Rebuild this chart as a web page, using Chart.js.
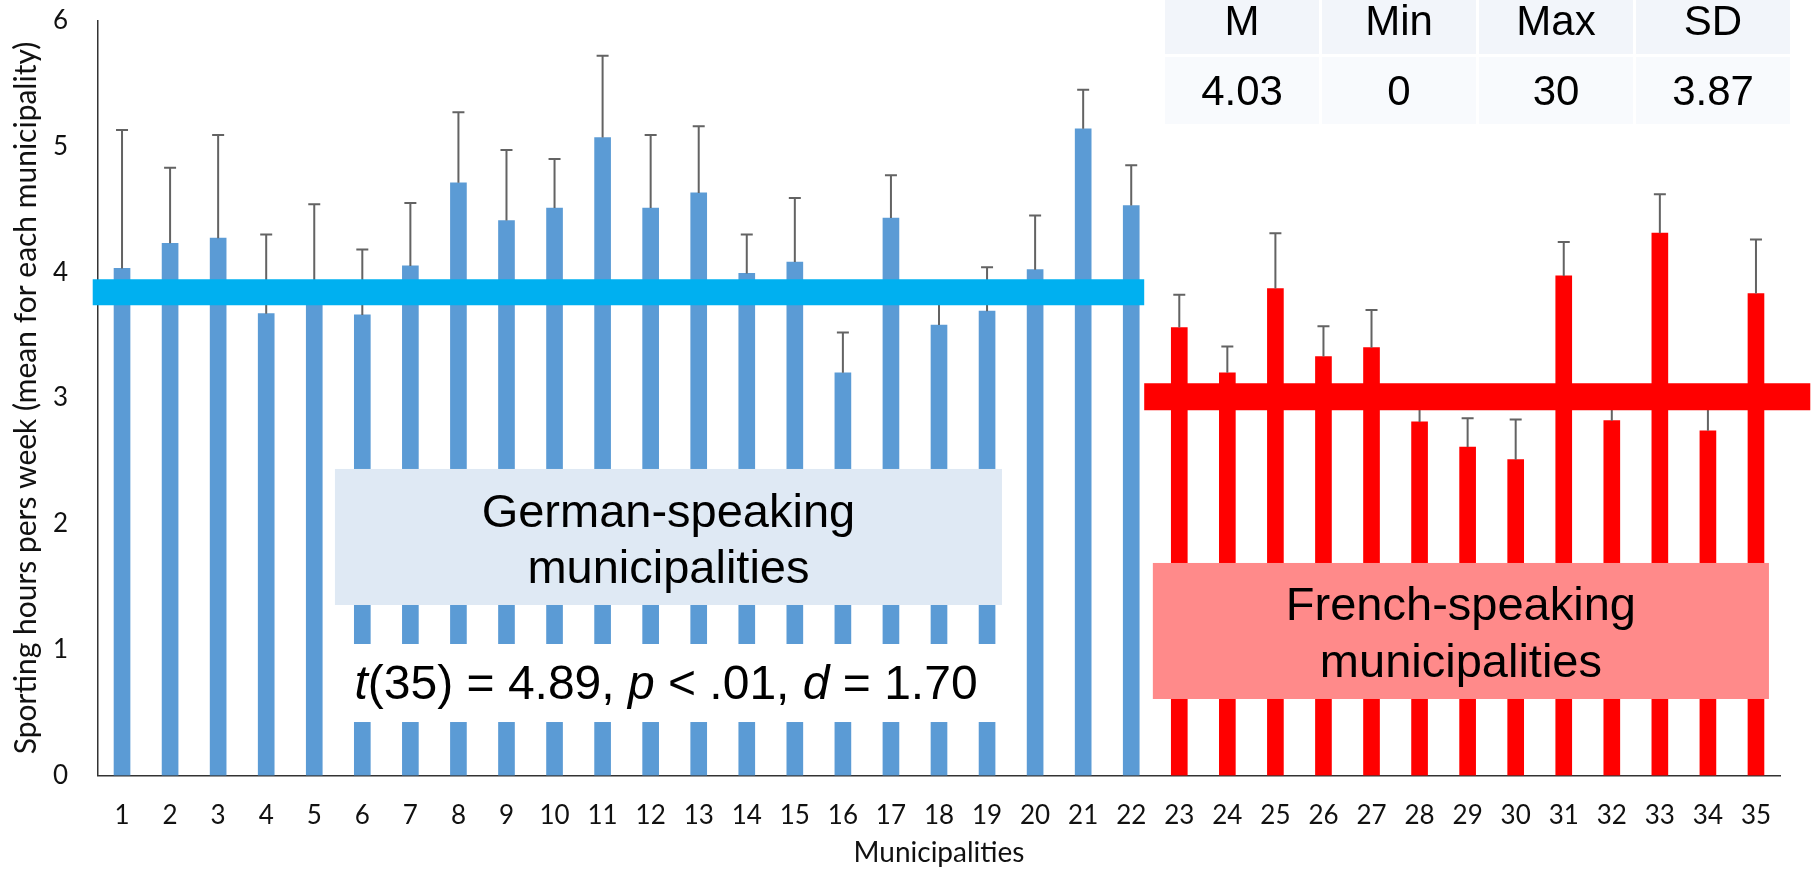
<!DOCTYPE html>
<html>
<head>
<meta charset="utf-8">
<script src="https://cdn.jsdelivr.net/npm/chart.js@4.4.1/dist/chart.umd.min.js"></script>
<style>
  html, body { margin: 0; padding: 0; background: #ffffff; }
  #wrap { width: 1820px; height: 878px; position: relative; }
</style>
</head>
<body>
<div id="wrap"><canvas id="chart" width="1820" height="878"></canvas></div>
<script>
// Municipality labels along the x axis
const municipalities = ['1','2','3','4','5','6','7','8','9','10','11','12','13','14','15','16','17','18',
  '19','20','21','22','23','24','25','26','27','28','29','30','31','32','33','34','35'];

// Mean weekly sporting hours per municipality and the upper error bar length
const germanMeans = [4.03, 4.23, 4.27, 3.67, 3.90, 3.66, 4.05, 4.71, 4.41, 4.51, 5.07,
  4.51, 4.63, 3.99, 4.08, 3.20, 4.43, 3.58, 3.69, 4.02, 5.14, 4.53];
const germanErrors = [1.10, 0.60, 0.82, 0.63, 0.64, 0.52, 0.50, 0.56, 0.56, 0.39, 0.65,
  0.58, 0.53, 0.31, 0.51, 0.32, 0.34, 0.27, 0.35, 0.43, 0.31, 0.32];
const frenchMeans = [3.56, 3.20, 3.87, 3.33, 3.40, 2.81, 2.61, 2.51, 3.97, 2.82, 4.31, 2.74, 3.83];
const frenchErrors = [0.26, 0.21, 0.44, 0.24, 0.30, 0.20, 0.23, 0.32, 0.27, 0.20, 0.31, 0.20, 0.43];

// Group levels drawn as thick horizontal bands
const germanGroupLevel = 3.84;
const frenchGroupLevel = 3.01;

// Summary table
const statHeaders = ['M', 'Min', 'Max', 'SD'];
const statValues = ['4.03', '0', '30', '3.87'];

// Value axis ticks
const yTicks = [0, 1, 2, 3, 4, 5, 6];

const germanPoints = germanMeans.map((v, i) => ({ x: i + 1, y: v }));
const frenchPoints = frenchMeans.map((v, i) => ({ x: germanMeans.length + i + 1, y: v }));
const firstFrench = germanMeans.length + 1;
const lastFrench = germanMeans.length + frenchMeans.length;

const LABEL_FONT = 'Lato, "Open Sans", sans-serif';
const TEXT_FONT = '"Liberation Sans", Arial, sans-serif';

// Upward error bars, painted right after each bar series
const errorBars = {
  id: 'errorBars',
  afterDatasetDraw(chart, args) {
    const ds = chart.data.datasets[args.index];
    if (!ds.errors) return;
    const yScale = chart.scales.y;
    const ctx = chart.ctx;
    ctx.save();
    ctx.strokeStyle = '#636363';
    ctx.lineWidth = 2;
    args.meta.data.forEach((bar, i) => {
      const top = yScale.getPixelForValue(ds.data[i].y + ds.errors[i]);
      ctx.beginPath();
      ctx.moveTo(bar.x, bar.y);
      ctx.lineTo(bar.x, top);
      ctx.moveTo(bar.x - 6, top);
      ctx.lineTo(bar.x + 6, top);
      ctx.stroke();
    });
    ctx.restore();
  }
};

// Group captions, test statistic and summary table
const captions = {
  id: 'captions',
  afterDatasetsDraw(chart) {
    const ctx = chart.ctx;
    const xs = chart.scales.x, ys = chart.scales.y;
    const X = v => xs.getPixelForValue(v);
    const Y = v => ys.getPixelForValue(v);
    ctx.save();

    // German caption box
    const gL = X(5.43), gR = X(19.31);
    ctx.fillStyle = '#DFE9F4';
    ctx.fillRect(gL, Y(2.436), gR - gL, Y(1.355) - Y(2.436));
    // White band for the test statistic
    ctx.fillStyle = '#FFFFFF';
    ctx.fillRect(gL, Y(1.045), gR - gL, Y(0.425) - Y(1.045));

    ctx.fillStyle = '#000000';
    ctx.font = '47px ' + TEXT_FONT;
    ctx.textAlign = 'center';
    ctx.textBaseline = 'alphabetic';
    const gC = (gL + gR) / 2;
    ctx.fillText('German-speaking', gC, Y(1.976));
    ctx.fillText('municipalities', gC, Y(1.530));

    // Test statistic with italic symbols
    const parts = [['t', true], ['(35) = 4.89, ', false], ['p', true], [' < .01, ', false],
                   ['d', true], [' = 1.70', false]];
    const fontFor = it => (it ? 'italic ' : '') + '48px ' + TEXT_FONT;
    let total = 0;
    parts.forEach(p => { ctx.font = fontFor(p[1]); total += ctx.measureText(p[0]).width; });
    let px = X(12.32) - total / 2;
    ctx.textAlign = 'left';
    parts.forEach(p => {
      ctx.font = fontFor(p[1]);
      ctx.fillText(p[0], px, Y(0.608));
      px += ctx.measureText(p[0]).width;
    });

    // French caption box
    const fL = X(22.45), fR = X(35.27);
    ctx.fillStyle = '#FF8A8A';
    ctx.fillRect(fL, Y(1.689), fR - fL, Y(0.608) - Y(1.689));
    ctx.fillStyle = '#000000';
    ctx.font = '47px ' + TEXT_FONT;
    ctx.textAlign = 'center';
    const fC = (fL + fR) / 2;
    ctx.fillText('French-speaking', fC, Y(1.236));
    ctx.fillText('municipalities', fC, Y(0.783));

    // Summary table in the top right corner
    const colW = 154, gap = 3, left0 = 1165;
    ctx.font = '42px ' + TEXT_FONT;
    ctx.textBaseline = 'middle';
    statHeaders.forEach((h, i) => {
      const cx = left0 + i * (colW + gap);
      ctx.fillStyle = '#F2F5FA';
      ctx.fillRect(cx, 0, colW, 54);
      ctx.fillStyle = '#F8FAFD';
      ctx.fillRect(cx, 57, colW, 67);
      ctx.fillStyle = '#000000';
      ctx.fillText(h, cx + colW / 2, 23);
      ctx.fillText(statValues[i], cx + colW / 2, 93);
    });
    ctx.restore();
  }
};

new Chart(document.getElementById('chart'), {
  type: 'bar',
  data: {
    datasets: [
      {
        type: 'line', label: 'German-speaking level', order: 0,
        data: [{ x: 1 - 0.61, y: germanGroupLevel }, { x: germanMeans.length + 0.27, y: germanGroupLevel }],
        borderColor: '#00B0F0', borderWidth: 26, borderCapStyle: 'butt',
        pointRadius: 0, pointHoverRadius: 0, pointBorderWidth: 0, clip: false, tension: 0
      },
      {
        type: 'line', label: 'French-speaking level', order: 0,
        data: [{ x: firstFrench - 0.73, y: frenchGroupLevel }, { x: lastFrench + 1.13, y: frenchGroupLevel }],
        borderColor: '#FF0000', borderWidth: 27, borderCapStyle: 'butt',
        pointRadius: 0, pointHoverRadius: 0, pointBorderWidth: 0, clip: false, tension: 0
      },
      {
        label: 'German-speaking', order: 1, data: germanPoints, errors: germanErrors,
        backgroundColor: '#5B9BD5', barThickness: 16, grouped: false
      },
      {
        label: 'French-speaking', order: 1, data: frenchPoints, errors: frenchErrors,
        backgroundColor: '#FF0000', barThickness: 16, grouped: false
      }
    ]
  },
  options: {
    responsive: false,
    animation: false,
    layout: { autoPadding: false, padding: { top: 20.5, right: 40, left: 0, bottom: 0 } },
    plugins: { legend: { display: false }, tooltip: { enabled: false } },
    scales: {
      x: {
        type: 'linear', min: 0.5, max: municipalities.length + 0.5, offset: false,
        grid: { display: false, drawTicks: false, offset: false },
        border: { display: true, color: '#333333', width: 1.5 },
        afterBuildTicks: s => { s.ticks = municipalities.map((m, i) => ({ value: i + 1 })); },
        afterFit: s => { s.height = 102.5; s.paddingLeft = 0; s.paddingRight = 0; },
        ticks: {
          autoSkip: false, maxRotation: 0, padding: 25, color: '#111111',
          font: { family: LABEL_FONT, size: 26 },
          callback: v => municipalities[v - 1] ?? ''
        },
        title: {
          display: true, text: 'Municipalities', color: '#111111',
          font: { family: LABEL_FONT, size: 28 }, padding: { top: 0, bottom: 8 }
        }
      },
      y: {
        min: 0, max: 6,
        grid: { display: false, drawTicks: false },
        border: { display: true, color: '#333333', width: 1.5 },
        afterBuildTicks: s => { s.ticks = yTicks.map(v => ({ value: v })); },
        afterFit: s => { s.width = 98; s.paddingTop = 0; s.paddingBottom = 0; },
        ticks: { padding: 30, color: '#111111', font: { family: LABEL_FONT, size: 26 } },
        title: {
          display: true, text: 'Sporting hours pers week (mean for each municipality)', color: '#111111',
          font: { family: LABEL_FONT, size: 30 }, padding: { top: 8, bottom: 0 }
        }
      }
    }
  },
  plugins: [errorBars, captions]
});
</script>
</body>
</html>
